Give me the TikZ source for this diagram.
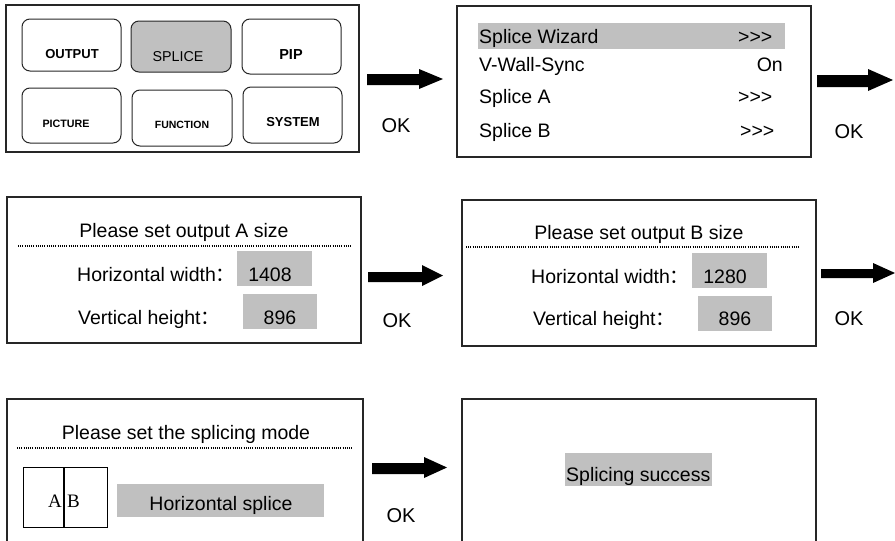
\documentclass[tikz,border=0pt]{standalone}
\usepackage{fontspec}
\setmainfont{Liberation Sans}
\newfontfamily\cjkfont{Noto Sans CJK SC}
\newfontfamily\seriffont{Liberation Serif}
\definecolor{hl}{HTML}{C0C0C0}
\newcommand\fatarrow[7]{% x1 x2 headx shafty1 shafty2 heady1 heady2
  \fill[black] (#1,#4) -- (#3,#4) -- (#3,#6) -- (#2,{(#6+#7)/2}) -- (#3,#7) -- (#3,#5) -- (#1,#5) -- cycle;}
\begin{document}
\begin{tikzpicture}[x=1pt,y=-1pt,
  panel/.style={draw=black!85,line width=1.2pt},
  btn/.style={draw=black!85,line width=1pt,rounded corners=8pt},
  txt/.style={inner sep=0pt,anchor=base,font=\fontsize{19.5}{22}\selectfont},
  ltxt/.style={txt,anchor=base west},
  oktxt/.style={inner sep=0pt,anchor=base,font=\fontsize{20}{22}\selectfont},
  btnb/.style={inner sep=0pt,anchor=base,font=\bfseries\fontsize{#1}{16}\selectfont},
  abtxt/.style={inner sep=0pt,anchor=base,font=\seriffont\fontsize{19}{20}\selectfont},
  dotline/.style={line width=1.2pt,dash pattern=on 1pt off 1.2pt}]
\useasboundingbox (0,0) rectangle (895,541);
\clip (0,0) rectangle (895,541);

% ---------- Panel 1: main menu ----------
\draw[panel] (6,5) rectangle (359,152);
\draw[btn] (22,19) rectangle (121,71);
\draw[btn,fill=hl] (131,21) rectangle (231,72);
\draw[btn] (242,19) rectangle (341,74);
\draw[btn] (22,88) rectangle (121,143);
\draw[btn] (132,90) rectangle (232,146);
\draw[btn] (243,87) rectangle (342,143);
\node[btnb=13] (bout) at (72,58) {OUTPUT};
\node[inner sep=0pt,anchor=base,font=\fontsize{14.3}{16}\selectfont] (bspl) at (178,61) {SPLICE};
\node[btnb=14.5] (bpip) at (291,59) {PIP};
\node[btnb=10.7] (bpic) at (66,127) {PICTURE};
\node[btnb=10.5] (bfun) at (182,128) {FUNCTION};
\node[btnb=13] (bsys) at (293,126) {SYSTEM};
\fatarrow{367}{443}{419}{74}{85}{69}{89}
\node[oktxt] (ok1) at (396,132) {OK};

% ---------- Panel 2: splice menu ----------
\draw[panel] (457,6) rectangle (811,157);
\fill[hl] (478,23) rectangle (785,49);
\node[ltxt] (m1) at (479,43) {Splice Wizard};
\node[ltxt] (m1r) at (738,43) {>{}>{}>};
\node[ltxt] (m2) at (479,71) {V-Wall-Sync};
\node[txt,anchor=base east] (m2r) at (783,71) {On};
\node[ltxt] (m3) at (479,103) {Splice A};
\node[ltxt] (m3r) at (738,103) {>{}>{}>};
\node[ltxt] (m4) at (479,137) {Splice B};
\node[ltxt] (m4r) at (740,137) {>{}>{}>};
\fatarrow{817}{893}{868}{75}{87}{69}{91}
\node[oktxt] (ok2) at (849,138) {OK};

% ---------- Panel 3: output A size ----------
\draw[panel] (7,197) rectangle (361,343);
\node[txt] (ta) at (184,237) {Please set output A size};
\draw[dotline] (18,246) -- (352,246);
\fill[hl] (237,251) rectangle (312,286);
\fill[hl] (243,294) rectangle (317,329);
\node[ltxt] (ha) at (77,281) {Horizontal width{\cjkfont ：}};
\node[txt] (hav) at (270,281) {1408};
\node[ltxt] (va) at (78,324) {Vertical height{\cjkfont ：}};
\node[txt] (vav) at (280,324) {896};
\fatarrow{368}{443}{422}{272}{282}{265}{286}
\node[oktxt] (ok3) at (397,327) {OK};

% ---------- Panel 4: output B size ----------
\draw[panel] (462,200) rectangle (816,346);
\node[txt] (tb) at (639,239) {Please set output B size};
\draw[dotline] (466,247) -- (800,247);
\fill[hl] (692,253) rectangle (767,288);
\fill[hl] (698,296) rectangle (772,331);
\node[ltxt] (hb) at (531,283) {Horizontal width{\cjkfont ：}};
\node[txt] (hbv) at (725,283) {1280};
\node[ltxt] (vb) at (533,325) {Vertical height{\cjkfont ：}};
\node[txt] (vbv) at (735,325) {896};
\fatarrow{821}{895}{873}{269}{278}{263}{283}
\node[oktxt] (ok4) at (849,325) {OK};

% ---------- Panel 5: splicing mode ----------
\draw[panel] (7,399) rectangle (363,560);
\node[txt] (tm) at (186,439) {Please set the splicing mode};
\draw[dotline] (17,448) -- (352,448);
\draw[line width=0.8pt] (23,467) rectangle (107,527);
\draw[line width=2pt] (64,467) -- (64,527);
\node[abtxt] (la) at (55,507) {A};
\node[abtxt] (lb) at (73.5,507) {B};
\fill[hl] (117,484) rectangle (324,517);
\node[txt] (hs) at (221,510) {Horizontal splice};
\fatarrow{372}{447}{424}{463}{474}{457}{478}
\node[oktxt] (ok5) at (401,522) {OK};

% ---------- Panel 6: success ----------
\draw[panel] (462,399) rectangle (816,560);
\fill[hl] (565,453) rectangle (712,486);
\node[ltxt] (succ) at (566,481) {Splicing success};
\end{tikzpicture}
\end{document}
